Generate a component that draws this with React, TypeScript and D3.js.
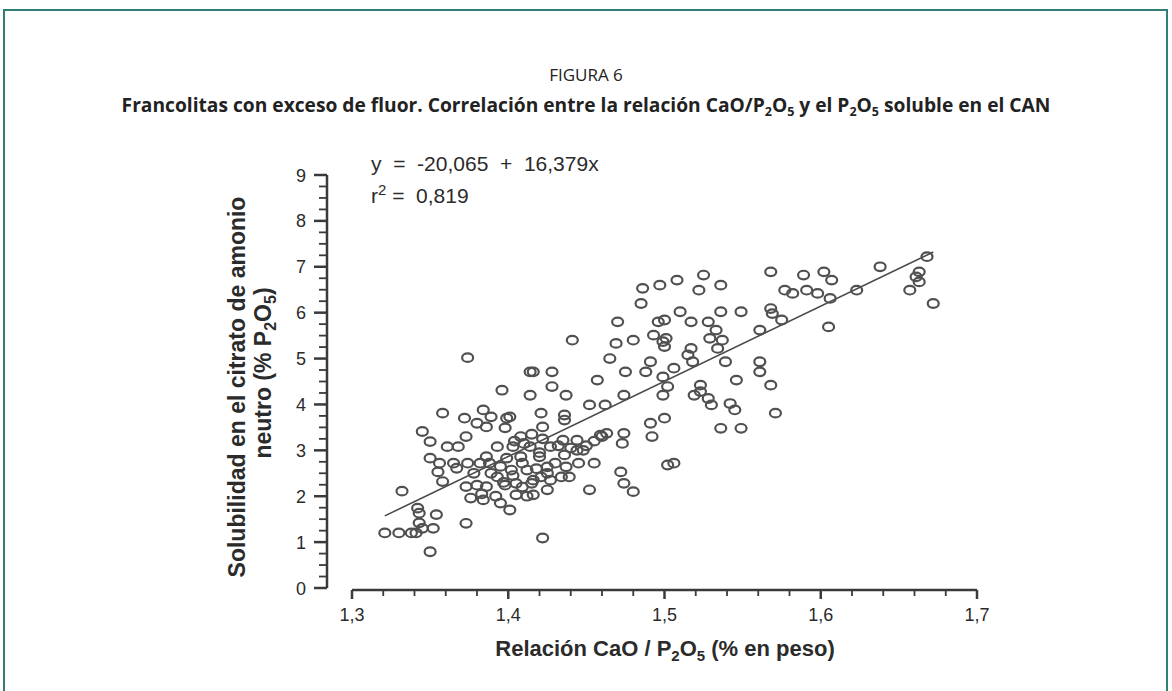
import React from "react";
import * as d3 from "d3";

// CaO / P2O5 ratio (x) and soluble P2O5 in neutral ammonium citrate (y)
const caoRatio: number[] = [
  1.321, 1.330, 1.338, 1.341, 1.332, 1.342, 1.343, 1.343, 1.350, 1.345, 1.352, 1.354, 1.373, 1.374,
  1.345, 1.350, 1.358, 1.350, 1.356, 1.355, 1.358, 1.361, 1.368, 1.365, 1.367, 1.372, 1.373, 1.374,
  1.373, 1.376, 1.380, 1.384, 1.380, 1.386, 1.389, 1.382, 1.386, 1.388, 1.384, 1.386, 1.393, 1.395,
  1.396, 1.399, 1.398, 1.393, 1.401, 1.402, 1.399, 1.398, 1.405, 1.405, 1.403, 1.408, 1.408, 1.409,
  1.414, 1.416, 1.428, 1.414, 1.421, 1.422, 1.414, 1.412, 1.415, 1.416, 1.421, 1.425, 1.422, 1.428,
  1.420, 1.427, 1.425,
  1.392, 1.397, 1.403, 1.409, 1.412, 1.418, 1.420, 1.410, 1.404, 1.415, 1.425, 1.427, 1.430, 1.389,
  1.395, 1.383, 1.378, 1.422, 1.432, 1.436, 1.440, 1.445, 1.448, 1.450, 1.455, 1.460,
  1.486, 1.497, 1.485, 1.470, 1.496, 1.441, 1.469, 1.480, 1.493, 1.499, 1.465, 1.475, 1.491, 1.488,
  1.457, 1.499, 1.437, 1.452, 1.462, 1.474, 1.499, 1.436, 1.436, 1.491, 1.500, 1.401, 1.474, 1.459,
  1.463, 1.444, 1.435, 1.473, 1.492,
  1.455, 1.472, 1.474, 1.480, 1.452, 1.437, 1.434, 1.439, 1.502, 1.416, 1.444,
  1.568, 1.525, 1.508, 1.522, 1.536, 1.589, 1.602, 1.607, 1.577, 1.582, 1.591, 1.598, 1.606, 1.510,
  1.536, 1.549, 1.568, 1.569, 1.575, 1.605, 1.561, 1.500, 1.517, 1.528, 1.533, 1.501, 1.500, 1.529,
  1.537, 1.534, 1.517, 1.515, 1.518, 1.506, 1.539, 1.561, 1.561, 1.546, 1.568, 1.523, 1.523, 1.502,
  1.519, 1.528, 1.530, 1.542, 1.545, 1.571, 1.536, 1.549,
  1.506,
  1.668, 1.638, 1.663, 1.661, 1.663, 1.657, 1.672, 1.623,
];

const solubleP2O5: number[] = [
  1.20, 1.20, 1.20, 1.20, 2.11, 1.74, 1.63, 1.42, 0.79, 1.30, 1.30, 1.60, 1.41, 5.02,
  3.41, 3.19, 3.81, 2.83, 2.72, 2.53, 2.32, 3.08, 3.08, 2.72, 2.61, 3.70, 3.30, 2.72,
  2.21, 1.96, 2.24, 3.88, 3.59, 3.51, 3.73, 2.72, 2.86, 2.72, 1.92, 2.21, 2.42, 1.85,
  4.31, 3.70, 3.49, 3.08, 1.70, 2.57, 2.83, 2.24, 2.28, 2.03, 3.08, 3.30, 2.86, 2.72,
  4.71, 4.71, 4.71, 4.20, 3.81, 3.51, 3.08, 2.57, 2.28, 2.03, 2.42, 2.14, 1.09, 4.39,
  2.86, 3.08, 2.64,
  2.00, 2.30, 2.45, 2.20, 2.00, 2.60, 2.95, 3.15, 3.20, 3.35, 2.50, 2.35, 2.72, 2.50,
  2.65, 2.05, 2.50, 3.25, 3.10, 2.90, 3.05, 2.72, 3.00, 3.10, 3.20, 3.30,
  6.53, 6.60, 6.20, 5.80, 5.80, 5.40, 5.33, 5.40, 5.51, 5.37, 5.00, 4.71, 4.93, 4.71,
  4.53, 4.60, 4.20, 3.99, 3.99, 4.20, 4.20, 3.77, 3.66, 3.59, 3.70, 3.73, 3.37, 3.33,
  3.37, 3.22, 3.22, 3.15, 3.30,
  2.72, 2.53, 2.28, 2.10, 2.14, 2.64, 2.42, 2.42, 2.68, 2.35, 3.00,
  6.89, 6.82, 6.71, 6.49, 6.60, 6.82, 6.89, 6.71, 6.49, 6.42, 6.49, 6.42, 6.31, 6.02,
  6.02, 6.02, 6.09, 5.98, 5.84, 5.69, 5.62, 5.84, 5.80, 5.80, 5.62, 5.44, 5.26, 5.44,
  5.40, 5.22, 5.22, 5.08, 4.93, 4.79, 4.93, 4.93, 4.71, 4.53, 4.42, 4.42, 4.28, 4.39,
  4.20, 4.13, 3.99, 4.02, 3.88, 3.81, 3.48, 3.48,
  2.72,
  7.22, 7.00, 6.89, 6.78, 6.67, 6.49, 6.20, 6.49,
];

// Regression: y = -20,065 + 16,379x
const intercept = -20.065;
const slope = 16.379;

const xTickValues: number[] = [1.3, 1.4, 1.5, 1.6, 1.7];
const xTickLabels: string[] = ["1,3", "1,4", "1,5", "1,6", "1,7"];
const yTickValues: number[] = [0, 1, 2, 3, 4, 5, 6, 7, 8, 9];

const W = 1172;
const H = 691;

export default function App() {
  const x = d3.scaleLinear().domain([1.3, 1.7]).range([352, 977]);
  const y = d3.scaleLinear().domain([0, 9]).range([588, 175]);

  const xMinor = d3.range(1.3, 1.7001, 0.02);
  const yMinor = d3.range(0, 9.001, 0.25);

  const xMin = d3.min(caoRatio) as number;
  const xMax = d3.max(caoRatio) as number;
  const line = d3
    .line<number>()
    .x((d) => x(d))
    .y((d) => y(intercept + slope * d));

  const axisColor = "#3a3a3a";
  const textColor = "#2b2b2b";
  const sans = "Liberation Sans, Arial, sans-serif";
  const titleFont = "'Open Sans', Lato, sans-serif";

  return (
    <svg
      width={W}
      height={H}
      viewBox={`0 0 ${W} ${H}`}
      style={{ position: "fixed", left: 0, top: 0, background: "#fff" }}
    >
      <rect x={0} y={0} width={W} height={H} fill="#fff" />
      <rect x={4} y={10} width={1163} height={700} fill="none" stroke="#2f7f77" strokeWidth={2} />

      <text x={586} y={81} textAnchor="middle" fontFamily={titleFont} fontSize={17} fill="#222">
        FIGURA 6
      </text>
      <text x={586} y={112} textAnchor="middle" fontFamily={titleFont} fontWeight={700} fontSize={19.2} fill="#222">
        Francolitas con exceso de fluor. Correlación entre la relación CaO/P
        <tspan fontSize={12.5} dy={4}>2</tspan>
        <tspan dy={-4}>O</tspan>
        <tspan fontSize={12.5} dy={4}>5</tspan>
        <tspan dy={-4}> y el P</tspan>
        <tspan fontSize={12.5} dy={4}>2</tspan>
        <tspan dy={-4}>O</tspan>
        <tspan fontSize={12.5} dy={4}>5</tspan>
        <tspan dy={-4}> soluble en el CAN</tspan>
      </text>

      {/* Y axis */}
      <line x1={327} x2={327} y1={y(9)} y2={y(0)} stroke={axisColor} strokeWidth={2.5} />
      {yMinor.map((v, i) => {
        const major = Math.abs(v - Math.round(v)) < 1e-6;
        return (
          <line
            key={"ym" + i}
            x1={327}
            x2={major ? 314 : 319}
            y1={y(v)}
            y2={y(v)}
            stroke={axisColor}
            strokeWidth={major ? 2.5 : 1.8}
          />
        );
      })}
      {yTickValues.map((v) => (
        <text
          key={"yt" + v}
          x={306}
          y={y(v) + 6.5}
          textAnchor="end"
          fontFamily={sans}
          fontSize={18}
          fill={textColor}
        >
          {v}
        </text>
      ))}

      {/* X axis */}
      <line x1={x(1.3)} x2={x(1.7)} y1={590} y2={590} stroke={axisColor} strokeWidth={2.5} />
      {xMinor.map((v, i) => {
        const major = Math.abs(v * 10 - Math.round(v * 10)) < 1e-6;
        return (
          <line
            key={"xm" + i}
            x1={x(v)}
            x2={x(v)}
            y1={590}
            y2={major ? 599 : 596}
            stroke={axisColor}
            strokeWidth={major ? 2.5 : 1.8}
          />
        );
      })}
      {xTickValues.map((v, i) => (
        <text
          key={"xt" + v}
          x={x(v)}
          y={621}
          textAnchor="middle"
          fontFamily={sans}
          fontSize={18}
          fill={textColor}
        >
          {xTickLabels[i]}
        </text>
      ))}

      {/* Axis titles */}
      <text
        x={665}
        y={656}
        textAnchor="middle"
        fontFamily={sans}
        fontWeight={700}
        fontSize={22}
        fill={textColor}
      >
        Relación CaO / P<tspan fontSize={15} dy={5}>2</tspan>
        <tspan dy={-5}>O</tspan>
        <tspan fontSize={15} dy={5}>5</tspan>
        <tspan dy={-5}> (% en peso)</tspan>
      </text>
      <text
        transform="translate(245,387) rotate(-90)"
        textAnchor="middle"
        fontFamily={sans}
        fontWeight={700}
        fontSize={23}
        fill={textColor}
      >
        Solubilidad en el citrato de amonio
      </text>
      <text
        transform="translate(271,373) rotate(-90)"
        textAnchor="middle"
        fontFamily={sans}
        fontWeight={700}
        fontSize={23}
        fill={textColor}
      >
        neutro (% P<tspan fontSize={16} dy={5}>2</tspan>
        <tspan dy={-5}>O</tspan>
        <tspan fontSize={16} dy={5}>5</tspan>
        <tspan dy={-5}>)</tspan>
      </text>

      {/* Equation */}
      <text x={371} y={171} fontFamily={sans} fontSize={21} fill={textColor} style={{ whiteSpace: "pre" }}>
        {"y  =  -20,065  +  16,379x"}
      </text>
      <text x={371} y={203} fontFamily={sans} fontSize={21} fill={textColor} style={{ whiteSpace: "pre" }}>
        {"r"}
        <tspan fontSize={15} dy={-8}>2</tspan>
        <tspan dy={8}>{" =  0,819"}</tspan>
      </text>

      {/* Regression line */}
      <path d={line([xMin, xMax]) || ""} stroke="#4a4a4a" strokeWidth={1.6} fill="none" />

      {/* Points */}
      {caoRatio.map((cx, i) => (
        <ellipse
          key={"p" + i}
          cx={x(cx)}
          cy={y(solubleP2O5[i])}
          rx={5.5}
          ry={4.3}
          fill="none"
          stroke="#505050"
          strokeWidth={2.2}
        />
      ))}
    </svg>
  );
}
